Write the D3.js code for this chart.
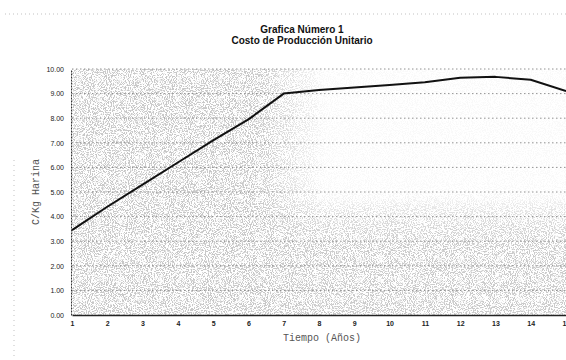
<!DOCTYPE html>
<html>
<head>
<meta charset="utf-8">
<script src="https://cdn.jsdelivr.net/npm/d3@7"></script>
<style>
  body { margin: 0; background: #fff; }
  .numeral { font-family: "Liberation Sans", Arial, sans-serif; font-size: 7px; fill: #222; }
  .title { font-family: "Liberation Sans", Arial, sans-serif; font-size: 10px; font-weight: bold; fill: #111; }
  .mono { font-family: "Liberation Mono", "DejaVu Sans Mono", monospace; font-size: 10px; fill: #555; }
</style>
</head>
<body>
<svg id="chart" width="566" height="360"></svg>
<script>
var years = [1, 2, 3, 4, 5, 6, 7, 8, 9, 10, 11, 12, 13, 14, 15];
var cost = [3.45, 4.4, 5.3, 6.2, 7.1, 7.95, 9.0, 9.15, 9.25, 9.35, 9.46, 9.64, 9.68, 9.56, 9.1];
var yTicks = [0, 1, 2, 3, 4, 5, 6, 7, 8, 9, 10];
var titleLines = ["Grafica Número 1", "Costo de Producción Unitario"];
var xLabel = "Tiempo (Años)";
var yLabel = "C/Kg Harina";

var tickFormatter = d3.format(".2f");

function renderCostChart(svg) {
  let width = 566;
  let height = 360;
  let margin = { left: 72, right: 0, bottom: 45, top: 69 };

  let xScale = d3.scaleLinear()
    .domain([1, 15])
    .range([margin.left, width - margin.right])

  let yScale = d3.scaleLinear()
    .domain([0, 10])
    .range([height - margin.bottom, margin.top])

  let x0 = xScale(1), x1 = xScale(15), yTop = yScale(10), yBot = yScale(0);

  // scan speckle, faded out in the upper right by a mask
  let defs = svg.append("defs");
  let f = defs.append("filter").attr("id", "speckle")
    .attr("x", 0).attr("y", 0).attr("width", 1).attr("height", 1)
  f.append("feTurbulence")
    .attr("type", "fractalNoise")
    .attr("baseFrequency", 0.95)
    .attr("numOctaves", 2)
    .attr("seed", 4)
  f.append("feColorMatrix")
    .attr("type", "matrix")
    .attr("values", "0 0 0 0 0.58  0 0 0 0 0.58  0 0 0 0 0.58  9 0 0 0 -4.3")

  let hGrad = defs.append("linearGradient").attr("id", "fadeX")
    .attr("gradientUnits", "userSpaceOnUse")
    .attr("x1", xScale(6.3)).attr("x2", xScale(8.2)).attr("y1", 0).attr("y2", 0)
  hGrad.append("stop").attr("offset", 0).attr("stop-color", "#fff")
  hGrad.append("stop").attr("offset", 1).attr("stop-color", "#1a1a1a")

  let vGrad = defs.append("linearGradient").attr("id", "fadeY")
    .attr("gradientUnits", "userSpaceOnUse")
    .attr("x1", 0).attr("x2", 0).attr("y1", yScale(5)).attr("y2", yScale(2.8))
  vGrad.append("stop").attr("offset", 0).attr("stop-color", "#fff").attr("stop-opacity", 0)
  vGrad.append("stop").attr("offset", 0.45).attr("stop-color", "#fff").attr("stop-opacity", 0.6)
  vGrad.append("stop").attr("offset", 1).attr("stop-color", "#fff").attr("stop-opacity", 0.95)

  let mask = defs.append("mask").attr("id", "fade")
  mask.append("rect")
    .attr("x", x0).attr("y", yTop).attr("width", x1 - x0).attr("height", yBot - yTop)
    .attr("fill", "url(#fadeX)")
  mask.append("rect")
    .attr("x", x0).attr("y", yTop).attr("width", x1 - x0).attr("height", yBot - yTop)
    .attr("fill", "url(#fadeY)")

  svg.append("g")
    .attr("mask", "url(#fade)")
    .append("rect")
    .attr("x", x0)
    .attr("y", yTop)
    .attr("width", x1 - x0)
    .attr("height", yBot - yTop)
    .attr("filter", "url(#speckle)")

  // dotted grid
  svg.append("g")
    .selectAll("line")
    .data(yTicks.slice(1))
    .join("line")
    .attr("x1", x0)
    .attr("x2", x1)
    .attr("y1", d => yScale(d))
    .attr("y2", d => yScale(d))
    .attr("stroke", "#777")
    .attr("stroke-width", 0.8)
    .attr("stroke-dasharray", "1.5,2.5")

  let yAxis = d3.axisLeft(yScale)
    .tickValues(yTicks)
    .tickFormat(tickFormatter)
    .tickSize(0)
    .tickPadding(7)

  svg.append("g")
    .attr("transform", `translate(${x0 - 1}, 0)`)
    .call(yAxis)
    .attr("font-family", "")
    .attr("font-size", "")
    .call(g => g.select(".domain").attr("stroke", "#333").attr("stroke-dasharray", "2,1"))
    .selectAll("text")
    .attr("class", "numeral")

  let xAxis = d3.axisBottom(xScale)
    .tickValues(years)
    .tickFormat(d3.format("d"))
    .tickSize(0)
    .tickPadding(6)

  svg.append("g")
    .attr("transform", `translate(0, ${yBot})`)
    .call(xAxis)
    .attr("font-family", "")
    .attr("font-size", "")
    .call(g => g.select(".domain").attr("stroke", "#222").attr("stroke-width", 1.3))
    .selectAll("text")
    .attr("class", "numeral")
    .attr("font-weight", "bold")

  let line = d3.line()
    .x((d, i) => xScale(years[i]))
    .y(d => yScale(d))

  svg.append("path")
    .datum(cost)
    .attr("fill", "none")
    .attr("stroke", "#111")
    .attr("stroke-width", 2)
    .attr("stroke-linejoin", "round")
    .attr("d", line)

  svg.append("g")
    .selectAll("text")
    .data(titleLines)
    .join("text")
    .attr("class", "title")
    .attr("x", 302)
    .attr("y", (d, i) => 33 + i * 11)
    .attr("text-anchor", "middle")
    .text(d => d)

  svg.append("text")
    .attr("class", "mono")
    .attr("x", 322)
    .attr("y", 341)
    .attr("text-anchor", "middle")
    .text(xLabel)

  svg.append("text")
    .attr("class", "mono")
    .attr("transform", `translate(39, 192) rotate(-90)`)
    .attr("text-anchor", "middle")
    .text(yLabel)

  // scanner border traces
  svg.append("line")
    .attr("x1", 5).attr("x2", 566).attr("y1", 14).attr("y2", 14)
    .attr("stroke", "#999").attr("stroke-width", 0.6).attr("stroke-dasharray", "1,3")
  svg.append("line")
    .attr("x1", 14).attr("x2", 14).attr("y1", 160).attr("y2", 360)
    .attr("stroke", "#999").attr("stroke-width", 0.6).attr("stroke-dasharray", "1,4")
}

renderCostChart(d3.select("#chart"));
</script>
</body>
</html>
